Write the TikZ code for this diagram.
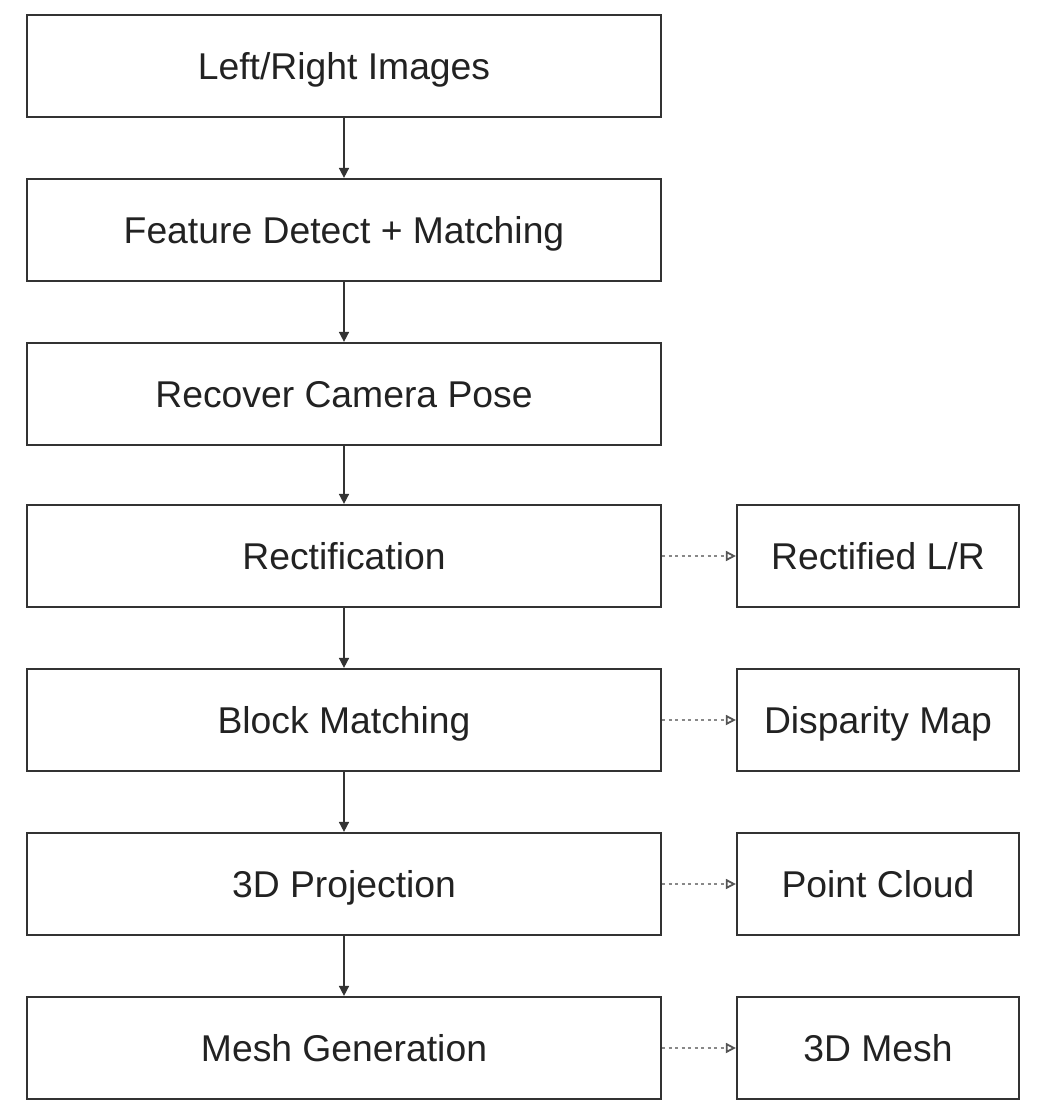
\documentclass[tikz,border=0pt]{standalone}
\usepackage{fontspec}
\setmainfont{Liberation Sans}
\usetikzlibrary{arrows.meta}
\definecolor{edge}{HTML}{333333}
\definecolor{txt}{HTML}{222222}
\definecolor{dotc}{HTML}{888888}
\definecolor{tipc}{HTML}{555555}
\begin{document}
\begin{tikzpicture}[x=1pt,y=-1pt,
  mainbox/.style={draw=edge,line width=2.2pt,minimum width=634pt,minimum height=102pt,inner sep=0pt,text height=26.5pt,text depth=0pt,text=txt,font=\fontsize{37.3}{40}\selectfont},
  sidebox/.style={mainbox,minimum width=282pt},
  flow/.style={draw=edge,line width=1.6pt,-{Triangle[length=10pt,width=10pt]}},
  outarr/.style={draw=dotc,line width=1.6pt,dash pattern=on 3pt off 3.5pt,-{Triangle[open,length=10pt,width=10pt,line width=1.8pt,sep=0pt,color=tipc]}}]
\useasboundingbox (0,0) rectangle (1044,1118);
\node[mainbox] (a) at (344,66) {Left/Right Images};
\node[mainbox] (b) at (344,230) {Feature Detect + Matching};
\node[mainbox] (c) at (344,394) {Recover Camera Pose};
\node[mainbox] (d) at (344,556) {Rectification};
\node[mainbox] (e) at (344,720) {Block Matching};
\node[mainbox] (f) at (344,884) {3D Projection};
\node[mainbox] (g) at (344,1048) {Mesh Generation};
\node[sidebox] (d2) at (878,556) {Rectified L/R};
\node[sidebox] (e2) at (878,720) {Disparity Map};
\node[sidebox] (f2) at (878,884) {Point Cloud};
\node[sidebox] (g2) at (878,1048) {3D Mesh};
\foreach \u/\v in {a/b,b/c,c/d,d/e,e/f,f/g}
  \draw[flow] (\u.south) -- (\v.north);
\foreach \u in {d,e,f,g}
  \draw[outarr] (\u.east) -- (\u2.west);
\end{tikzpicture}
\end{document}
